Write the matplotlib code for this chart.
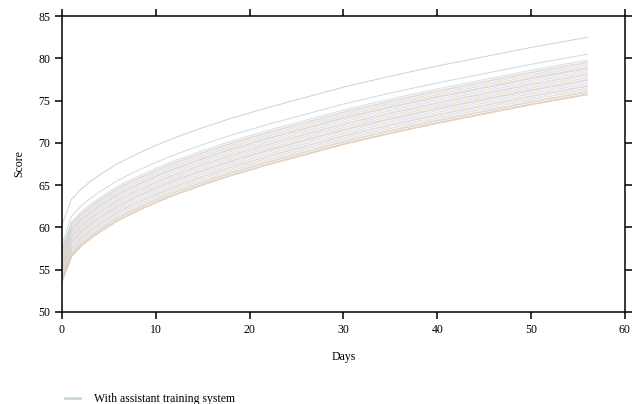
import matplotlib
matplotlib.use("Agg")
import matplotlib.pyplot as plt

plt.rcParams['font.family'] = 'serif'
plt.rcParams['font.serif'] = ['Liberation Serif', 'DejaVu Serif']
plt.rcParams['font.size'] = 8.5

days = [0, 1, 2, 3, 4, 5, 6, 8, 10, 12, 15, 18, 22, 26, 30, 35, 40, 45, 50, 56]

# one row per curve (top to bottom)
scores = [
    [60.3, 63.3, 64.5, 65.4, 66.2, 66.9, 67.6, 68.7, 69.7, 70.6, 71.8, 72.9, 74.2, 75.4, 76.6, 77.9, 79.1, 80.2, 81.3, 82.5],
    [58.0, 61.3, 62.5, 63.4, 64.2, 64.9, 65.6, 66.7, 67.7, 68.6, 69.8, 70.9, 72.2, 73.4, 74.6, 75.9, 77.1, 78.2, 79.3, 80.5],
    [57.6, 60.6, 61.8, 62.7, 63.5, 64.2, 64.9, 66.0, 67.0, 67.9, 69.1, 70.2, 71.5, 72.7, 73.9, 75.2, 76.4, 77.5, 78.6, 79.8],
    [57.4, 60.4, 61.6, 62.5, 63.3, 64.0, 64.7, 65.8, 66.8, 67.7, 68.9, 70.0, 71.3, 72.5, 73.7, 75.0, 76.2, 77.3, 78.4, 79.6],
    [57.3, 60.3, 61.5, 62.4, 63.2, 63.9, 64.6, 65.7, 66.7, 67.6, 68.8, 69.9, 71.2, 72.4, 73.6, 74.9, 76.1, 77.2, 78.3, 79.5],
    [57.1, 60.1, 61.3, 62.2, 63.0, 63.7, 64.4, 65.5, 66.5, 67.4, 68.6, 69.7, 71.0, 72.2, 73.4, 74.7, 75.9, 77.0, 78.1, 79.3],
    [56.9, 59.9, 61.1, 62.0, 62.8, 63.5, 64.2, 65.3, 66.3, 67.2, 68.4, 69.5, 70.8, 72.0, 73.2, 74.5, 75.7, 76.8, 77.9, 79.1],
    [56.7, 59.7, 60.9, 61.8, 62.6, 63.3, 64.0, 65.1, 66.1, 67.0, 68.2, 69.3, 70.6, 71.8, 73.0, 74.3, 75.5, 76.6, 77.7, 78.9],
    [56.6, 59.6, 60.8, 61.7, 62.5, 63.2, 63.9, 65.0, 66.0, 66.9, 68.1, 69.2, 70.5, 71.7, 72.9, 74.2, 75.4, 76.5, 77.6, 78.8],
    [56.4, 59.4, 60.6, 61.5, 62.3, 63.0, 63.7, 64.8, 65.8, 66.7, 67.9, 69.0, 70.3, 71.5, 72.7, 74.0, 75.2, 76.3, 77.4, 78.6],
    [56.2, 59.2, 60.4, 61.3, 62.1, 62.8, 63.5, 64.6, 65.6, 66.5, 67.7, 68.8, 70.1, 71.3, 72.5, 73.8, 75.0, 76.1, 77.2, 78.4],
    [56.0, 59.0, 60.2, 61.1, 61.9, 62.6, 63.3, 64.4, 65.4, 66.3, 67.5, 68.6, 69.9, 71.1, 72.3, 73.6, 74.8, 75.9, 77.0, 78.2],
    [55.9, 58.9, 60.1, 61.0, 61.8, 62.5, 63.2, 64.3, 65.3, 66.2, 67.4, 68.5, 69.8, 71.0, 72.2, 73.5, 74.7, 75.8, 76.9, 78.1],
    [55.7, 58.7, 59.9, 60.8, 61.6, 62.3, 63.0, 64.1, 65.1, 66.0, 67.2, 68.3, 69.6, 70.8, 72.0, 73.3, 74.5, 75.6, 76.7, 77.9],
    [55.5, 58.5, 59.7, 60.6, 61.4, 62.1, 62.8, 63.9, 64.9, 65.8, 67.0, 68.1, 69.4, 70.6, 71.8, 73.1, 74.3, 75.4, 76.5, 77.7],
    [55.3, 58.3, 59.5, 60.4, 61.2, 61.9, 62.6, 63.7, 64.7, 65.6, 66.8, 67.9, 69.2, 70.4, 71.6, 72.9, 74.1, 75.2, 76.3, 77.5],
    [55.2, 58.2, 59.4, 60.3, 61.1, 61.8, 62.5, 63.6, 64.6, 65.5, 66.7, 67.8, 69.1, 70.3, 71.5, 72.8, 74.0, 75.1, 76.2, 77.4],
    [55.0, 58.0, 59.2, 60.1, 60.9, 61.6, 62.3, 63.4, 64.4, 65.3, 66.5, 67.6, 68.9, 70.1, 71.3, 72.6, 73.8, 74.9, 76.0, 77.2],
    [54.8, 57.8, 59.0, 59.9, 60.7, 61.4, 62.1, 63.2, 64.2, 65.1, 66.3, 67.4, 68.7, 69.9, 71.1, 72.4, 73.6, 74.7, 75.8, 77.0],
    [54.6, 57.6, 58.8, 59.7, 60.5, 61.2, 61.9, 63.0, 64.0, 64.9, 66.1, 67.2, 68.5, 69.7, 70.9, 72.2, 73.4, 74.5, 75.6, 76.8],
    [54.5, 57.5, 58.7, 59.6, 60.4, 61.1, 61.8, 62.9, 63.9, 64.8, 66.0, 67.1, 68.4, 69.6, 70.8, 72.1, 73.3, 74.4, 75.5, 76.7],
    [54.3, 57.3, 58.5, 59.4, 60.2, 60.9, 61.6, 62.7, 63.7, 64.6, 65.8, 66.9, 68.2, 69.4, 70.6, 71.9, 73.1, 74.2, 75.3, 76.5],
    [54.1, 57.1, 58.3, 59.2, 60.0, 60.7, 61.4, 62.5, 63.5, 64.4, 65.6, 66.7, 68.0, 69.2, 70.4, 71.7, 72.9, 74.0, 75.1, 76.3],
    [53.9, 56.9, 58.1, 59.0, 59.8, 60.5, 61.2, 62.3, 63.3, 64.2, 65.4, 66.5, 67.8, 69.0, 70.2, 71.5, 72.7, 73.8, 74.9, 76.1],
    [53.8, 56.8, 58.0, 58.9, 59.7, 60.4, 61.1, 62.2, 63.2, 64.1, 65.3, 66.4, 67.7, 68.9, 70.1, 71.4, 72.6, 73.7, 74.8, 76.0],
    [53.6, 56.6, 57.8, 58.7, 59.5, 60.2, 60.9, 62.0, 63.0, 63.9, 65.1, 66.2, 67.5, 68.7, 69.9, 71.2, 72.4, 73.5, 74.6, 75.8],
    [53.5, 56.5, 57.7, 58.6, 59.4, 60.1, 60.8, 61.9, 62.9, 63.8, 65.0, 66.1, 67.4, 68.6, 69.8, 71.1, 72.3, 73.4, 74.5, 75.7],
]

top_colors = ['#c9bcc9', '#b8cfdc']
band_palette = ['#c4d6e2', '#f0dcb4', '#cfc4de', '#c8d8d8', '#ecc8b8',
                '#dcd4b0', '#bccce4', '#e8ccd8']
bottom_colors = ['#d8c0ac', '#e8bc98']
legend_label = 'With assistant training system'

fig = plt.figure(figsize=(6.37, 4.04), dpi=100)
ax = fig.add_axes([0.0973, 0.228, 0.8837, 0.732])

n = len(scores)
for i, row in enumerate(scores):
    if i < 2:
        c = top_colors[i]
    elif i >= n - 2:
        c = bottom_colors[i - (n - 2)]
    else:
        c = band_palette[(i - 2) % len(band_palette)]
    ax.plot(days, row, color=c, lw=0.7, alpha=0.75)

# legend entry
ax.plot([], [], color='#c8d8d8', lw=2, label=legend_label)

ax.set_xlim(0, 60)
ax.set_ylim(50, 85)
ax.set_xticks(range(0, 61, 10))
ax.set_yticks(range(50, 86, 5))
ax.tick_params(direction='out', length=5, width=1.1, top=True, right=True,
               labeltop=False, labelright=False, labelsize=8.5)
for s in ax.spines.values():
    s.set_linewidth(1.1)

ax.set_xlabel('Days', labelpad=11)
ax.set_ylabel('Score', labelpad=9)

fig.legend(loc='lower left', bbox_to_anchor=(0.085, -0.03), frameon=False,
           handlelength=1.3, handletextpad=1.2, fontsize=8.5)

fig.savefig('out.png', dpi=100)
